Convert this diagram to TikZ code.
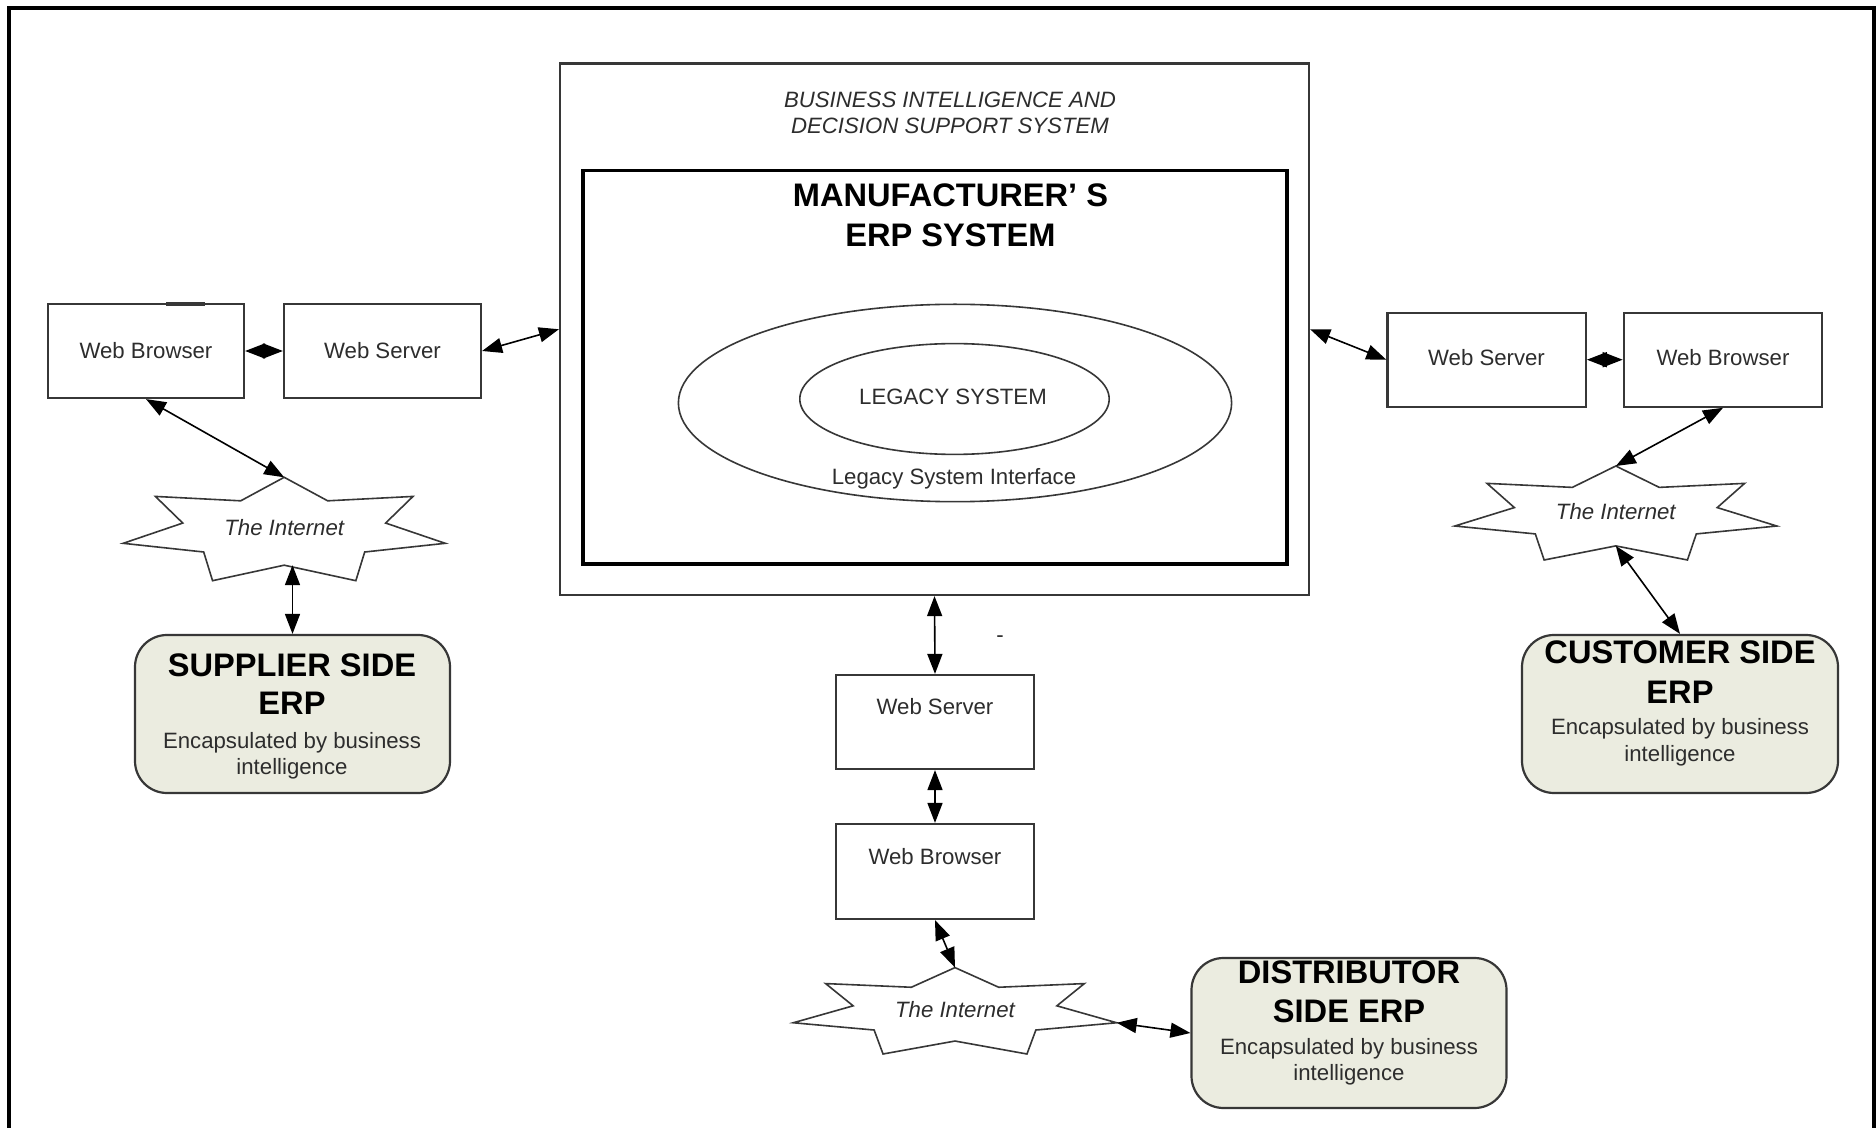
\documentclass[tikz,border=0pt]{standalone}
\usepackage{fontspec}
\setmainfont{Liberation Sans}
\usetikzlibrary{arrows.meta,shapes.geometric,calc}

\definecolor{erpfill}{RGB}{235,236,224}
\definecolor{edge}{RGB}{55,55,55}
\definecolor{ink}{RGB}{45,45,45}

\tikzset{
  sz/.style 2 args={minimum width=#1*0.5pt, minimum height=#2*0.5pt},
  plainbox/.style={rectangle, draw=edge, line width=1.1pt, fill=white, inner sep=0pt},
  erpbox/.style={rectangle, rounded corners=16pt, draw=edge, line width=1.1pt, fill=erpfill, inner sep=0pt},
  ring/.style={ellipse, draw=edge, line width=0.8pt, inner sep=0pt},
  starline/.style={draw=edge, line width=0.8pt, fill=white, line join=miter},
  link/.style={line width=0.8pt, draw=black, {Triangle[length=10pt,width=7.5pt]}-{Triangle[length=10pt,width=7.5pt]}},
  lbl/.style={anchor=base, inner sep=0pt, text=ink, font=\fontsize{11.1}{13.3}\selectfont},
  ilbl/.style={anchor=base, inner sep=0pt, text=ink, font=\fontsize{11.1}{13.3}\selectfont\itshape},
  hd/.style={anchor=base, inner sep=0pt, text=black, font=\fontsize{16.3}{19}\selectfont\bfseries},
}

% Explosion-shaped "Internet" cloud: name, centre x, centre y, half width, half height
\newcommand\netstar[5]{%
  \begin{scope}[shift={(#2,#3)}, xscale=#4, yscale=#5]
    \path[starline] (0,-1) -- (-0.27,-0.545) -- (-0.80,-0.63) -- (-0.63,-0.115)
      -- (-1,0.277) -- (-0.50,0.445) -- (-0.445,1) -- (0,0.70) -- (0.445,1)
      -- (0.50,0.445) -- (1,0.277) -- (0.63,-0.115) -- (0.80,-0.63)
      -- (0.27,-0.545) -- cycle;
    \coordinate (#1-top) at (0,-1);
    \coordinate (#1-bot) at (0,0.70);
    \coordinate (#1-east) at (1,0.277);
  \end{scope}
  \node[ilbl] (#1) at (#2,#3+6.5) {The Internet};
}

\begin{document}
\begin{tikzpicture}[x=0.5pt, y=-0.5pt]
  \useasboundingbox (0,0) rectangle (1876,1128);

  % outer frame, open at the bottom
  \draw[line width=1.6pt] (9,1140) -- (9,8) -- (1874,8) -- (1874,1140);

  % central system
  \node[plainbox, sz={749}{531.5}] (bi) at (934.5,329.25) {};
  \node[ilbl] (biT1) at (950,108) {BUSINESS INTELLIGENCE AND};
  \node[ilbl] (biT2) at (950,134) {DECISION SUPPORT SYSTEM};
  \node[rectangle, draw=black, line width=1.8pt, inner sep=0pt, sz={704}{393.6}] (erp) at (935,367.2) {};
  \node[hd] (erpT1) at (950.5,206.3) {MANUFACTURER’ S};
  \node[hd] (erpT2) at (950.5,246.3) {ERP SYSTEM};
  \node[ring, sz={553.2}{197.4}] (lsi) at (955,403) {};
  \node[ring, sz={309.4}{110.8}] (ls) at (954.5,399) {};
  \node[lbl] (lsT) at (953,405) {LEGACY SYSTEM};
  \node[lbl] (lsiT) at (954,484.5) {Legacy System Interface};

  % supplier side
  \node[plainbox, sz={196}{94}] (wbL) at (146,351) {};
  \draw[line width=1.6pt, edge] (166,304) -- (205,304);
  \node[lbl] (wbLT) at (146,358.5) {Web Browser};
  \node[plainbox, sz={197}{94}] (wsL) at (382.5,351) {};
  \node[lbl] (wsLT) at (382.5,358.5) {Web Server};
  \netstar{starL}{284.2}{529}{161}{51.7}
  \node[erpbox, sz={315}{158}] (sup) at (292.5,714) {};
  \node[hd] (supT1) at (292,676.7) {SUPPLIER SIDE};
  \node[hd] (supT2) at (292,714.7) {ERP};
  \node[lbl] (supT3) at (292,748) {Encapsulated by business};
  \node[lbl] (supT4) at (292,774.7) {intelligence};

  % customer side
  \node[plainbox, sz={198.4}{94}] (wsR) at (1486.6,359.7) {};
  \node[lbl] (wsRT) at (1486.5,366) {Web Server};
  \node[plainbox, sz={198.4}{94}] (wbR) at (1723,359.7) {};
  \node[lbl] (wbRT) at (1723,366) {Web Browser};
  \netstar{starR}{1615.8}{513}{161}{47}
  \node[erpbox, sz={316}{158}] (cust) at (1680,714) {};
  \node[hd] (custT1) at (1680,663.4) {CUSTOMER SIDE};
  \node[hd] (custT2) at (1680,703.4) {ERP};
  \node[lbl] (custT3) at (1680,734.7) {Encapsulated by business};
  \node[lbl] (custT4) at (1680,761.3) {intelligence};

  % distributor side
  \node[plainbox, sz={197.4}{94}] (wsB) at (935,722) {};
  \node[lbl] (wsBT) at (935,715) {Web Server};
  \node[lbl] (mark) at (1000,642.5) {-};
  \node[plainbox, sz={197.4}{95}] (wbB) at (935,871.5) {};
  \node[lbl] (wbBT) at (935,864.6) {Web Browser};
  \netstar{starB}{955}{1010.8}{161.7}{43.2}
  \node[erpbox, sz={315}{150}] (dist) at (1349,1033) {};
  \node[hd] (distT1) at (1349,983.4) {DISTRIBUTOR};
  \node[hd] (distT2) at (1349,1022.4) {SIDE ERP};
  \node[lbl] (distT3) at (1349,1054) {Encapsulated by business};
  \node[lbl] (distT4) at (1349,1080.7) {intelligence};

  % connectors
  \draw[link] (wbL.east) -- (wsL.west);
  \draw[link] (wsL.east) -- (bi.west);
  \draw[link] (wbL.south) -- (starL-top);
  \draw[link] (sup.north |- starL-bot) -- (sup.north);
  \draw[link] (bi.east) -- (wsR.west);
  \draw[link] (wsR.east) -- (wbR.west);
  \draw[link] (wbR.south) -- (starR-top);
  \draw[link] (starR-bot) -- (cust.north);
  \draw[link] (bi.south) -- (wsB.north);
  \draw[link] (wsB.south) -- (wbB.north);
  \draw[link] (wbB.south) -- (starB-top);
  \draw[link] (starB-east) -- (dist.west);
\end{tikzpicture}
\end{document}
